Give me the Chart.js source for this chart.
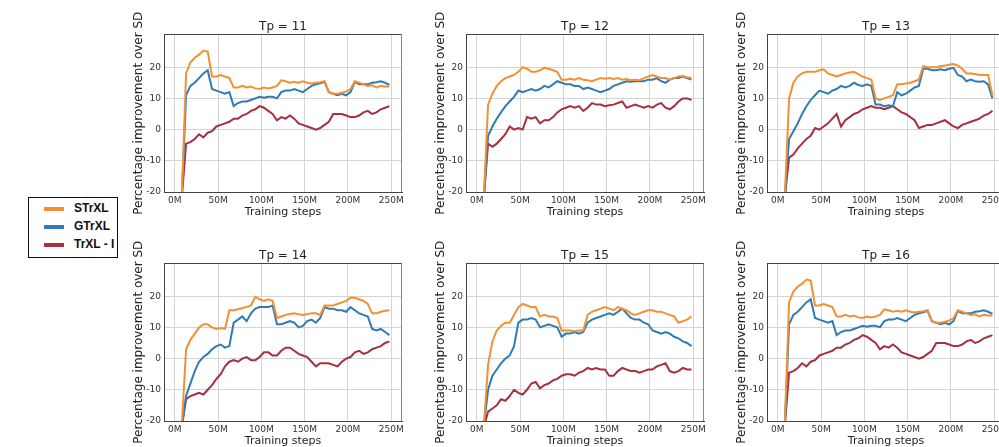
<!DOCTYPE html>
<html lang="en">
<head>
<meta charset="UTF-8" />
<title>Percentage improvement over SD</title>
<style>
  html, body { margin: 0; padding: 0; background: #fff; overflow: hidden; }
  body { width: 999px; height: 447px; position: relative; }
  canvas { position: absolute; }
  #legend {
    position: absolute; left: 28px; top: 197px; width: 90px; height: 61px;
    border: 1.5px solid #111; box-sizing: border-box; overflow: hidden;
    font-family: "Liberation Sans", Arial, sans-serif; font-weight: bold; font-size: 12px; color: #111;
  }
  .item { position: absolute; left: 15px; height: 14px; line-height: 14px; white-space: nowrap; }
  .item span { display: inline-block; width: 20px; height: 4px; vertical-align: middle; margin-right: 10px; }
</style>
</head>
<body>
<div id="legend"></div>

<script src="https://cdn.jsdelivr.net/npm/chart.js"></script>
<script>
  // training steps (millions)
  const steps = [8, 13, 18, 23, 28, 33, 38, 43, 48, 53, 58, 63, 68, 73, 78, 83, 88, 93, 98, 103,
    108, 113, 118, 123, 128, 133, 138, 143, 148, 153, 158, 163, 168, 173, 178, 183, 188, 193, 198, 203,
    208, 213, 218, 223, 228, 233, 238, 243, 248];
  const xTicks = [0, 50, 100, 150, 200, 250];
  const yTicks = [-20, -10, 0, 10, 20];
  const seriesNames = ['STrXL', 'GTrXL', 'TrXL - I'];
  const seriesColors = ['#f39033', '#2e7bb6', '#a6303f'];
  const panelTitles = ['Tp = 11', 'Tp = 12', 'Tp = 13', 'Tp = 14', 'Tp = 15', 'Tp = 16'];

  const strxl11 = [-22, 18, 21.5, 23, 24, 25.3, 25, 17, 17, 17.5,
    17, 16.5, 13.5, 13.5, 14, 13.5, 13.8, 13.2, 13, 13.5,
    13.2, 13.5, 14, 15.8, 15.5, 15, 15.3, 15, 15.5, 15,
    14.8, 15, 15.2, 15.5, 12, 11.5, 11.5, 11.8, 12.2, 13,
    15.5, 15, 14.5, 14, 14.2, 13.5, 14, 13.8, 13.8];
  const gtrxl11 = [-22, 11, 14, 15, 16.5, 18, 19, 13, 12.5, 12,
    11.5, 12, 7.5, 8.5, 9, 9, 9.5, 10, 10.5, 10.2,
    10.5, 10.5, 10, 12, 12.5, 12.5, 13, 12.5, 12, 13,
    14, 14.5, 14.8, 15.3, 12, 11.5, 11, 11.5, 11, 12,
    15.3, 14.5, 14.5, 14.5, 15, 15.2, 15.5, 15, 14.3];
  const trxli11 = [-22, -4.5, -4, -3, -1.5, -2.5, -1, -0.5, 1, 1.5,
    2, 2.5, 3.5, 3.5, 4.5, 5, 6, 6.5, 7.5, 7,
    6, 5, 3, 4, 3.5, 4.5, 3.5, 2, 1.5, 1,
    0.5, 0, 0.5, 1.5, 2.5, 5, 5, 5, 4.5, 4,
    4, 4.5, 5.5, 6, 5, 5.5, 6.5, 7, 7.5];

  const strxl12 = [-22, 8, 11.5, 14, 15.5, 16.5, 17, 17.5, 18.5, 20,
    19.5, 18.5, 18.5, 19, 19.8, 19.5, 19, 18.5, 16, 16,
    16.3, 16, 16.5, 16, 15.8, 15.5, 16, 16.5, 16.3, 16.5,
    16.2, 16.5, 16, 16.2, 15.8, 16, 15.8, 16.5, 17, 17.5,
    17, 16.5, 16.5, 16, 16.5, 17, 17.2, 16.8, 16.5];
  const gtrxl12 = [-22, -2, 1, 3.5, 5.5, 7.5, 9, 10.5, 12.5, 12,
    12.5, 13, 12.5, 13, 14, 13.5, 14.5, 15.5, 15, 14.5,
    14.5, 14, 14, 13, 13.5, 13, 12.5, 12, 12.5, 13,
    14, 14.5, 15, 15.5, 15.3, 15.5, 15.5, 15.5, 16, 16,
    16.5, 15.5, 15, 16, 16.5, 16.5, 17, 16.5, 16];
  const trxli12 = [-22, -4.5, -5.5, -4.5, -3, -1.5, 1, 0, 0.5, 0,
    4, 3.5, 4, 2, 3, 3, 4, 5.5, 6.5, 7,
    7.5, 7, 7.5, 6, 7, 8.5, 8, 8, 7.5, 7.8,
    8, 8.5, 9, 7, 7.5, 8, 7.5, 7, 7.5, 7,
    8, 8.5, 7, 6.5, 7.5, 9, 10, 10, 9.5];

  const strxl13 = [-22, 10, 15, 17, 18, 18.5, 18.5, 18.5, 19, 19.3,
    18, 17.5, 17, 17.5, 18, 18.3, 18.5, 17.8, 17, 16.5,
    16, 10, 9.5, 10, 10.5, 11, 14.5, 14.5, 14.8, 15,
    15.5, 16, 20.3, 20, 20, 20, 20.3, 20.5, 20.8, 21,
    20.5, 19.5, 18, 18, 17.8, 17.5, 17.5, 17.5, 11];
  const gtrxl13 = [-22, -3, -0.5, 2, 5, 7.5, 9.5, 11, 12.5, 12,
    11.5, 12.5, 13, 14, 13.5, 14, 15, 14.3, 14, 14.5,
    14, 8, 8, 7.5, 7.8, 7.5, 12, 11, 11.5, 12.5,
    13.5, 14, 19.5, 19.5, 19, 19, 19.3, 19, 19.5, 19.8,
    17.5, 17, 15.5, 16, 15.5, 15.3, 15.5, 14.5, 10];
  const trxli13 = [-22, -9, -8, -6, -4.5, -3, -2, 0.5, 0, 1,
    2, 3.5, 5, 1, 3, 4, 5, 5.5, 6.5, 7,
    7.5, 7, 7, 6.5, 7, 7.5, 6.5, 5.5, 5, 4,
    3, 0.5, 1, 1.5, 1.5, 2, 2.5, 3, 2, 1,
    0.5, 1.5, 2, 2.5, 3, 3.5, 4.5, 5, 6];

  const strxl14 = [-22, 3, 6, 8, 10, 11, 11, 10, 9.5, 9.8,
    9.5, 15.5, 15.5, 15.8, 16.2, 16.5, 17, 19.8, 19, 18.5,
    19, 18.5, 13, 13.5, 14, 14.3, 14.5, 14.2, 14, 14.3,
    14.5, 14.5, 14, 17, 17, 17, 17.5, 18, 18.5, 19.5,
    19.5, 19, 18.5, 17.5, 14.5, 14.5, 15, 15.3, 15.5];
  const gtrxl14 = [-22, -12, -8, -4, -1, 0.5, 1.5, 3, 4, 4.5,
    3.5, 4, 11.5, 12.5, 13.5, 12, 14.5, 16, 16.5, 16.5,
    16.5, 17, 11, 11, 11.5, 12, 11.5, 10, 10.5, 12,
    12.5, 11.5, 13, 16.5, 16, 16, 15.5, 15.5, 15, 16.5,
    15.5, 14.5, 14, 13.5, 9.5, 9, 9.5, 8.5, 7.5];
  const trxli14 = [-22, -13, -12, -11.5, -11, -11.5, -10, -8.5, -6.5, -5,
    -2.5, -1, -0.5, -1, 0, 0.5, -0.5, -0.5, 0.5, 2,
    2, 1, 1, 2.5, 3.5, 3.5, 2.5, 1.5, 1, 0.5,
    -1, -2.5, -1.5, -1.5, -1.5, -2, -2.5, -1, 0, 0.5,
    2, 2.5, 1.5, 2, 3, 3.5, 4, 5, 5.5];

  const strxl15 = [-22, -2, 5.5, 9, 10.5, 11.5, 11.5, 14, 16.5, 17.5,
    17, 16.5, 16.5, 13.5, 14, 13.5, 13.5, 13, 9, 9,
    9, 8.8, 9, 9, 14, 15, 15.5, 16, 16.5, 16,
    15.5, 16.5, 16, 15.5, 14.5, 14, 14.5, 15, 15.5, 15.5,
    15, 15, 14.5, 14, 13.5, 11.5, 12, 12.5, 13.5];
  const gtrxl15 = [-22, -10, -5.5, -3.5, -1.5, 0, 1, 4, 11.5, 12.5,
    12.5, 13, 12.5, 10, 10.5, 11, 10.5, 10, 7, 8,
    8, 8.5, 8, 8.5, 11.5, 12.5, 13, 13.5, 14, 14.5,
    14, 15, 16, 14.5, 13, 12.5, 12.5, 11.5, 11, 9,
    8.5, 8, 8.5, 8, 7, 6.5, 5.5, 5, 4];
  const trxli15 = [-22, -17, -16, -15, -13, -13.5, -12, -10, -11, -11.5,
    -10, -8, -7.5, -9.5, -8.5, -8, -7, -6.5, -5.5, -5,
    -5, -5.5, -4.5, -4, -3, -3.5, -3, -3.5, -3.5, -5.5,
    -5.5, -4, -3, -3.5, -4, -4, -4.5, -4, -3.5, -3.5,
    -2.5, -2, -1.5, -4, -4.5, -4, -3, -3.5, -3.5];

  // Tp = 16 panel shows the same curves as Tp = 11
  const panelSeries = [
    [strxl11, gtrxl11, trxli11],
    [strxl12, gtrxl12, trxli12],
    [strxl13, gtrxl13, trxli13],
    [strxl14, gtrxl14, trxli14],
    [strxl15, gtrxl15, trxli15],
    [strxl11, gtrxl11, trxli11]
  ];

  const FONT = '"DejaVu Sans", sans-serif';
  const COL_LEFT = [128, 430, 731];
  const ROW_TOP = [0, 229];

  // legend
  const legend = document.getElementById('legend');
  seriesNames.forEach((name, i) => {
    const d = document.createElement('div');
    d.className = 'item';
    d.style.top = (3 + i * 18) + 'px';
    d.innerHTML = '<span style="background:' + seriesColors[i] + '"></span>' + name;
    legend.appendChild(d);
  });

  const yTitle = {
    id: 'yTitle',
    afterDraw(chart) {
      const { ctx, chartArea } = chart;
      ctx.save();
      ctx.translate(chart.scales.y.left + 11, (chartArea.top + chartArea.bottom) / 2);
      ctx.rotate(-Math.PI / 2);
      ctx.font = '12px ' + FONT;
      ctx.fillStyle = '#222';
      ctx.textAlign = 'center';
      ctx.textBaseline = 'middle';
      ctx.fillText('Percentage improvement over SD', 0, 0);
      ctx.restore();
    }
  };

  const frame = {
    id: 'frame',
    beforeDatasetsDraw(chart) {
      const { ctx, chartArea: a } = chart;
      ctx.save();
      ctx.lineWidth = 1;
      ctx.strokeStyle = '#444';
      ctx.beginPath();
      ctx.moveTo(a.left, Math.round(a.top) + 0.5);
      ctx.lineTo(a.right, Math.round(a.top) + 0.5);
      ctx.stroke();
      ctx.strokeStyle = '#8a8a8a';
      ctx.beginPath();
      ctx.moveTo(Math.round(a.right) - 0.5, a.top);
      ctx.lineTo(Math.round(a.right) - 0.5, a.bottom);
      ctx.stroke();
      ctx.restore();
    }
  };

  panelTitles.forEach((title, p) => {
    const canvas = document.createElement('canvas');
    canvas.width = 280;
    canvas.height = 222;
    canvas.style.left = COL_LEFT[p % 3] + 'px';
    canvas.style.top = ROW_TOP[Math.floor(p / 3)] + 'px';
    document.body.appendChild(canvas);

    const datasets = panelSeries[p].map((vals, i) => ({
      label: seriesNames[i],
      data: steps.map((x, k) => ({ x: x, y: vals[k] })),
      borderColor: seriesColors[i],
      backgroundColor: seriesColors[i],
      borderWidth: 2,
      pointRadius: 0,
      tension: 0,
      fill: false
    }));

    new Chart(canvas.getContext('2d'), {
      type: 'line',
      data: { datasets },
      options: {
        responsive: false,
        animation: false,
        layout: { padding: { left: 0, right: 6, top: 0, bottom: 0 } },
        scales: {
          x: {
            type: 'linear',
            min: -12.5,
            max: 262.5,
            afterBuildTicks: s => { s.ticks = xTicks.map(v => ({ value: v })); },
            afterFit: s => { s.height = 30; },
            grid: { color: '#d4d4d4', drawTicks: false },
            border: { color: '#444', width: 1 },
            ticks: {
              autoSkip: false, maxRotation: 0, padding: 3,
              color: '#333', font: { family: FONT, size: 9 },
              callback: v => v + 'M'
            },
            title: {
              display: true, text: 'Training steps', color: '#222',
              font: { family: FONT, size: 11 }, padding: { top: 0, bottom: 3 }
            }
          },
          y: {
            min: -20,
            max: 30.5,
            afterBuildTicks: s => { s.ticks = yTicks.map(v => ({ value: v })); },
            afterFit: s => { s.width = 36; },
            grid: { color: '#d4d4d4', drawTicks: false },
            border: { color: '#444', width: 1 },
            ticks: { padding: 3, color: '#333', font: { family: FONT, size: 9 } }
          }
        },
        plugins: {
          legend: { display: false },
          tooltip: { enabled: false },
          title: {
            display: true, text: title, color: '#222', fullSize: false,
            font: { family: FONT, size: 12, weight: 'normal' },
            padding: { top: 20, bottom: 0 }
          }
        }
      },
      plugins: [frame, yTitle]
    });
  });
</script>
</body>
</html>
